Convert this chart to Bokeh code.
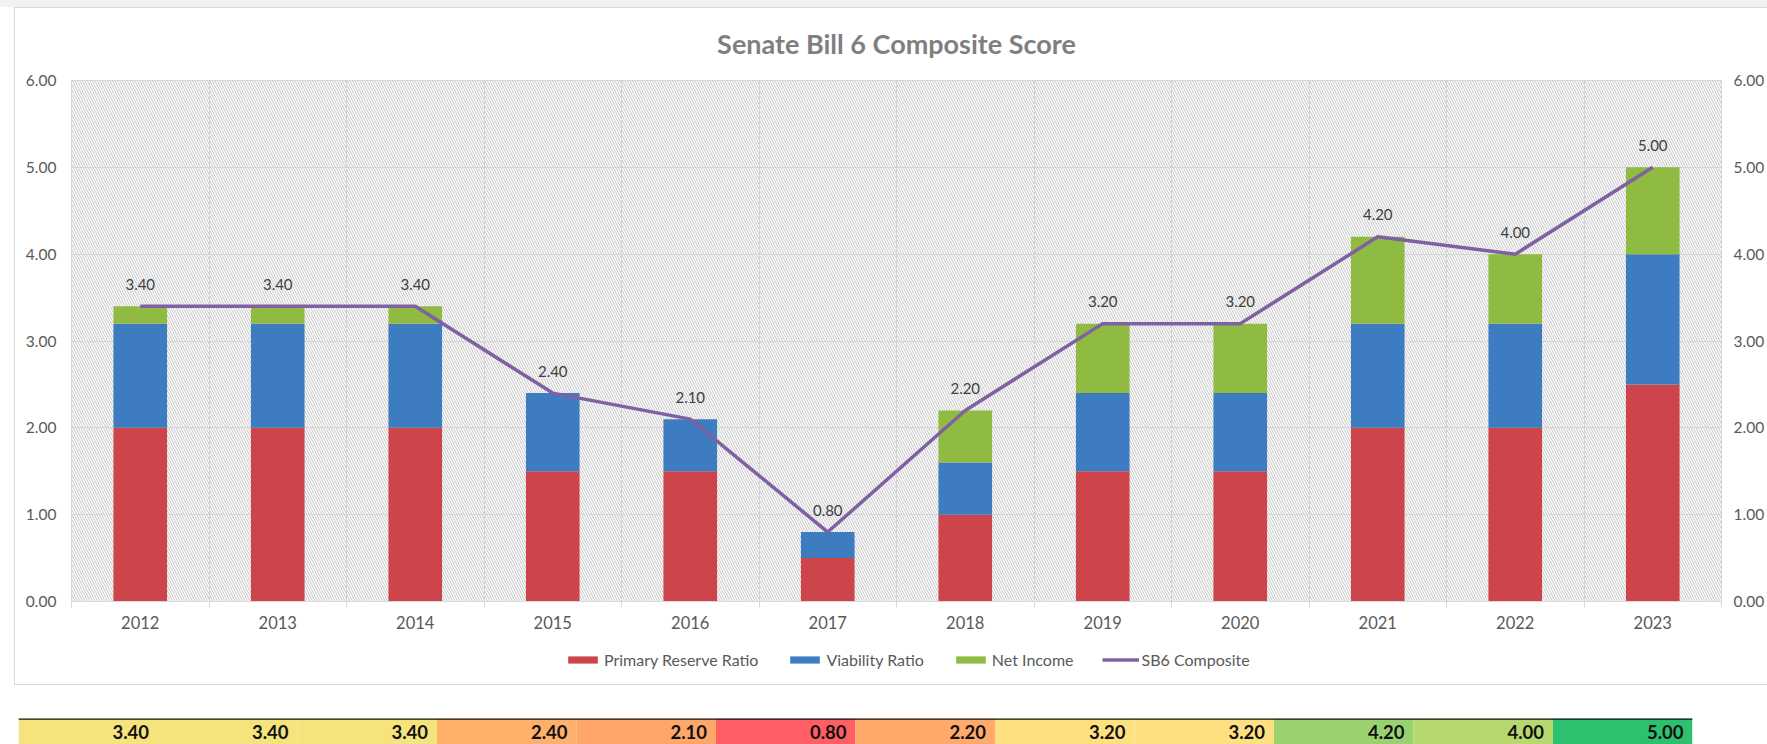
from bokeh.plotting import figure
from bokeh.models import (Range1d, LinearAxis, FixedTicker, NumeralTickFormatter, Legend,
                          LegendItem, ColumnDataSource, Grid, BoxAnnotation, Span,
                          InlineStyleSheet)
from bokeh.layouts import column
from bokeh.embed import file_html
from bokeh.resources import INLINE
from bokeh.core.properties import value

# ---------------- data ----------------
years = ["2012", "2013", "2014", "2015", "2016", "2017", "2018", "2019", "2020", "2021", "2022", "2023"]
primary_reserve = [2.0, 2.0, 2.0, 1.5, 1.5, 0.5, 1.0, 1.5, 1.5, 2.0, 2.0, 2.5]
viability = [1.2, 1.2, 1.2, 0.9, 0.6, 0.3, 0.6, 0.9, 0.9, 1.2, 1.2, 1.5]
net_income = [0.2, 0.2, 0.2, 0.0, 0.0, 0.0, 0.6, 0.8, 0.8, 1.0, 0.8, 1.0]
composite = [3.4, 3.4, 3.4, 2.4, 2.1, 0.8, 2.2, 3.2, 3.2, 4.2, 4.0, 5.0]
y_ticks = [0, 1, 2, 3, 4, 5, 6]
series_names = ["Primary Reserve Ratio", "Viability Ratio", "Net Income", "SB6 Composite"]
series_colors = ["#CD454A", "#3E7CC1", "#8FBB43", "#7F60A3"]
cell_colors = ["#F4E47B", "#F4E47B", "#F4E47B", "#FFB06B", "#FFA66A", "#FF5E64",
               "#FFAA6B", "#FFE080", "#FFE080", "#9BD270", "#B6D86F", "#2DC16F"]

FONT = "Lato"
W = 1767
n = len(years)
xc = [i + 0.5 for i in range(n)]
bounds = list(range(n + 1))

src = ColumnDataSource(dict(
    x=xc, primary=primary_reserve, viability=viability, net=net_income,
    comp=composite, lab=[f"{v:.2f}" for v in composite],
))

# ---------------- main chart ----------------
p = figure(width=W, height=640, x_range=Range1d(0, n), y_range=Range1d(0, 6),
           output_backend="svg", toolbar_location=None,
           x_axis_type=None, y_axis_type=None,
           min_border_left=71, min_border_right=44, min_border_top=80, min_border_bottom=39)
p.frame_align = False
p.outline_line_color = "#D9D9D9"
p.background_fill_color = "white"
p.border_fill_color = "white"

p.title.text = "Senate Bill 6 Composite Score"
p.title.align = "center"
p.title.text_font = FONT
p.title.text_font_size = "27px"
p.title.text_font_style = "bold"
p.title.text_color = "#7F7F7F"
p.title.standoff = 42

# hatched plot area (below the grid lines)
p.add_layout(BoxAnnotation(fill_alpha=0, line_color=None, hatch_pattern="\\",
                           hatch_color="#C4C4C4", hatch_scale=5, hatch_weight=1,
                           level="image"))

# grids
p.add_layout(Grid(dimension=0, ticker=FixedTicker(ticks=bounds), grid_line_color="#D4D4D4"))
p.add_layout(Grid(dimension=1, ticker=FixedTicker(ticks=y_ticks), grid_line_color="#D4D4D4"))

# axes
xaxis = LinearAxis(ticker=FixedTicker(ticks=xc, minor_ticks=bounds),
                   major_label_overrides={c: y for c, y in zip(xc, years)})
xaxis.axis_line_color = "#D9D9D9"
xaxis.major_tick_line_color = None
xaxis.major_tick_out = 0
xaxis.major_tick_in = 0
xaxis.minor_tick_line_color = "#D9D9D9"
xaxis.minor_tick_out = 6
xaxis.minor_tick_in = 0
xaxis.major_label_standoff = 8
xaxis.major_label_text_font = FONT
xaxis.major_label_text_font_size = "16.5px"
xaxis.major_label_text_color = "#595959"
p.add_layout(xaxis, "below")

for side, standoff in (("left", 15), ("right", 12)):
    ax = LinearAxis(ticker=FixedTicker(ticks=y_ticks), formatter=NumeralTickFormatter(format="0.00"))
    ax.axis_line_color = None
    ax.major_tick_line_color = None
    ax.minor_tick_line_color = None
    ax.major_tick_out = 0
    ax.major_tick_in = 0
    ax.major_label_standoff = standoff
    ax.major_label_text_font = FONT
    ax.major_label_text_font_size = "15.5px"
    ax.major_label_text_color = "#595959"
    p.add_layout(ax, side)

# stacked bars + composite line
p.vbar_stack(["primary", "viability", "net"], x="x", width=0.39, source=src,
             color=series_colors[:3], line_color=None)
p.line("x", "comp", source=src, line_width=3.5, line_color=series_colors[3])
p.text("x", "comp", text="lab", source=src, y_offset=-22, text_align="center",
       text_baseline="middle", text_font=value(FONT), text_font_size="15px",
       text_color="#404040")

# ---------------- legend strip ----------------
lg = figure(width=W, height=48, x_range=Range1d(0, 1), y_range=Range1d(0, 1),
            output_backend="svg", toolbar_location=None, x_axis_type=None, y_axis_type=None,
            min_border_left=0, min_border_right=0, min_border_top=0, min_border_bottom=0)
lg.frame_align = False
lg.outline_line_color = None
lg.grid.visible = False
lg_items = []
for name, col in zip(series_names[:3], series_colors[:3]):
    # zero-height proxy bar outside the view, only used for the legend swatch
    r = lg.vbar(x=[-5], top=[0], bottom=[0], width=1, color=col, line_color=None)
    lg_items.append(LegendItem(label=name, renderers=[r]))
r = lg.line(x=[-5, -4], y=[0, 0], line_width=3.5, line_color=series_colors[3])
lg_items.append(LegendItem(label=series_names[3], renderers=[r]))
legend = Legend(items=lg_items, orientation="horizontal", location=(564, 19),
                glyph_width=37, glyph_height=9, label_standoff=3, spacing=28,
                padding=0, margin=0, border_line_color=None, background_fill_alpha=0,
                label_text_font=FONT, label_text_font_size="16px", label_text_color="#595959")
lg.add_layout(legend)

# ---------------- score table ----------------
t = figure(width=W, height=56, x_range=Range1d(0, n), y_range=Range1d(0, 1),
           output_backend="svg", toolbar_location=None, x_axis_type=None, y_axis_type=None,
           min_border_left=18, min_border_right=75, min_border_top=30, min_border_bottom=0)
t.frame_align = False
t.outline_line_color = None
t.grid.visible = False
tsrc = ColumnDataSource(dict(left=bounds[:-1], right=bounds[1:], color=cell_colors,
                             lab=[f"{v:.2f}" for v in composite]))
t.quad(left="left", right="right", bottom=0, top=1, fill_color="color", line_color=None, source=tsrc)
t.text("right", 0.5, text="lab", source=tsrc, x_offset=-9, text_align="right",
       text_baseline="middle", text_font=value(FONT), text_font_size="18.5px",
       text_font_style="bold", text_color="#111111")
t.add_layout(Span(location=1, dimension="width", line_color="#111111", line_width=2.5))

layout = column(p, lg, t, spacing=0)
layout.stylesheets = [InlineStyleSheet(css="""
:host::before { content: ''; position: absolute; left: 0; top: 0; width: 1767px; height: 7px;
                background: #F2F2F4; z-index: 5; pointer-events: none; }
:host::after { content: ''; position: absolute; left: 14px; top: 7px; width: 1753px; height: 678px;
               border: 1px solid #D9D9D9; border-right: none; box-sizing: border-box;
               z-index: 5; pointer-events: none; }
""")]
open("out.html", "w").write(file_html(layout, INLINE))
